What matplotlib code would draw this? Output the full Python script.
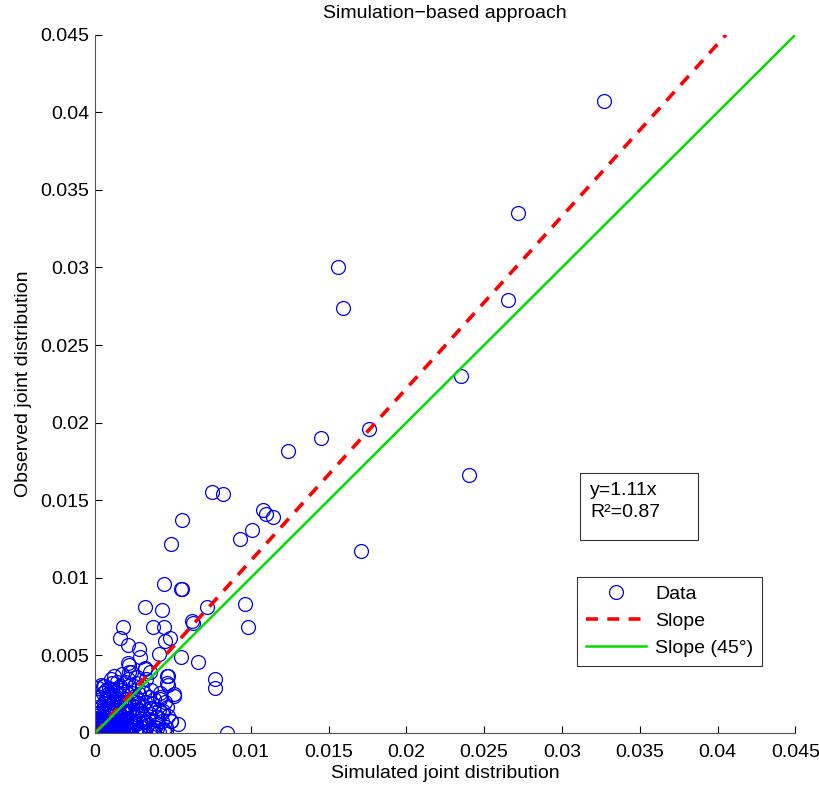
import numpy as np
import matplotlib
matplotlib.use("Agg")
import matplotlib.pyplot as plt
from matplotlib.patches import Rectangle

# simulated vs observed joint distribution (units of 1e-3)
sim_milli = [
    # outliers
    32.7, 27.2, 26.5, 15.6, 15.9, 23.5, 24.0, 17.6, 14.5, 12.4, 17.1,
    7.5, 8.2, 10.8, 11.0, 11.4, 10.1, 9.3, 5.6, 4.9, 4.4, 5.6, 9.6, 9.8,
    7.2, 6.2, 6.3, 7.7, 7.7, 8.5, 6.6, 5.5, 5.5,
    # middle band
    3.2, 4.3, 1.8, 3.7, 4.4, 4.8, 1.6, 2.1, 2.8, 4.5, 4.1, 2.9, 2.1, 2.2,
    3.2, 4.7, 4.7, 4.6, 4.6, 5.1, 4.2, 4.3, 4.9, 4.0, 3.7, 1.2, 0.5,
    # dense cluster near the origin
    0.1, 0.2, 0.3, 0.1, 0.4, 0.5, 0.2, 0.6, 0.7, 0.3, 0.8, 0.9, 0.05, 0.1,
    0.4, 0.0, 0.15, 0.5, 1.0, 1.0, 0.9, 0.6, 0.25, 0.35, 0.45, 0.7, 0.8,
    1.1, 1.2, 1.3, 1.4, 1.5, 1.6, 1.7, 1.8, 1.9, 1.2, 1.5, 1.8, 1.1, 1.4,
    1.0, 0.8, 0.6, 2.0, 1.3, 1.9, 1.15, 1.35, 1.55, 1.75, 1.65, 1.45,
    2.1, 2.2, 2.3, 2.4, 2.5, 2.6, 2.7, 2.8, 2.9, 2.1, 2.3, 2.6, 2.2, 2.0,
    2.15, 2.45, 2.75, 2.35, 2.55, 2.85, 2.05, 2.65,
    3.0, 3.1, 3.2, 3.3, 3.4, 3.5, 3.6, 3.7, 3.8, 3.9, 3.2, 3.5, 3.0, 3.35,
    3.65, 3.15, 3.45, 3.85,
    4.1, 4.3, 4.5, 4.7, 4.9, 4.2, 4.0, 5.1, 4.6, 5.3, 4.4,
    0.3, 0.6, 0.9, 1.2, 1.5, 0.2, 0.7, 1.05, 1.25, 1.6, 0.4, 0.85,
    2.25, 2.5, 1.95, 1.7, 2.9, 3.1, 0.55, 0.95,
    0.2, 0.5, 0.8, 1.1, 1.4, 1.7, 2.0, 2.3, 2.6, 2.9, 3.2, 3.5, 3.8, 4.1, 4.4,
    0.1, 0.2, 0.3, 0.4, 0.5, 0.6, 0.7, 0.8, 0.9, 1.0, 1.1, 1.2, 1.3, 1.4,
    1.5, 1.6, 1.7, 1.8, 1.9, 2.0, 0.15, 0.25, 0.35, 0.45, 0.55, 0.65, 0.75,
    0.85, 0.95, 1.05, 1.15, 1.25, 1.35, 1.45, 1.55, 1.65, 1.75, 1.85, 1.95,
    2.05, 2.15, 2.25, 2.35, 2.45, 2.55, 2.65, 2.75, 2.85, 2.95, 3.05, 3.25,
    3.45, 3.55, 3.75, 3.95, 4.15, 4.35, 4.55, 0.05, 0.1, 0.2, 0.3, 0.5, 0.7,
    0.9, 1.1, 1.3, 1.6, 1.9, 2.2, 0.4, 1.7, 0.2, 2.4, 2.7,
]
obs_milli = [
    40.7, 33.5, 27.9, 30.0, 27.4, 23.0, 16.6, 19.6, 19.0, 18.2, 11.7,
    15.5, 15.4, 14.4, 14.1, 13.9, 13.1, 12.5, 13.7, 12.2, 9.6, 9.3, 8.3, 6.8,
    8.1, 7.2, 7.1, 3.5, 2.9, 0.0, 4.6, 4.9, 9.3,
    8.1, 7.9, 6.8, 6.8, 6.8, 6.1, 6.1, 5.7, 5.4, 5.9, 5.1, 4.9, 4.5, 3.9,
    4.2, 3.7, 3.1, 3.2, 3.7, 2.5, 2.3, 1.3, 0.8, 1.0, 0.2, 3.7, 3.0,
    0.1, 0.3, 0.1, 0.5, 0.2, 0.6, 0.8, 0.1, 0.4, 1.0, 0.8, 0.2, 1.5, 1.2,
    1.4, 0.0, 0.05, 0.0, 0.1, 0.5, 1.1, 1.0, 0.0, 0.6, 0.3, 0.0, 0.2,
    0.3, 0.8, 1.5, 0.2, 0.6, 1.2, 0.0, 0.4, 1.8, 2.0, 2.2, 2.5, 2.8, 3.3,
    3.5, 2.5, 3.0, 0.9, 0.05, 0.1, 1.9, 2.6, 2.9, 1.4, 0.7, 0.1,
    0.2, 1.3, 2.1, 0.5, 3.0, 1.7, 0.1, 2.5, 0.8, 3.5, 3.9, 3.2, 4.4, 2.7,
    0.0, 1.0, 1.9, 0.4, 2.4, 1.4, 1.6, 0.6,
    1.2, 0.3, 2.0, 3.5, 0.9, 1.6, 2.8, 0.0, 2.2, 1.0, 4.1, 3.9, 3.0, 0.5,
    1.9, 2.6, 0.1, 0.4,
    1.5, 0.8, 2.0, 1.1, 0.8, 2.6, 0.3, 2.4, 1.7, 0.6, 0.1,
    0.9, 1.7, 2.3, 0.6, 1.0, 2.1, 2.8, 1.6, 0.0, 0.3, 0.7, 0.0,
    0.0, 1.1, 0.5, 2.8, 0.2, 0.7, 1.9, 2.4,
    0.05, 0.15, 0.0, 0.2, 0.1, 0.3, 0.05, 0.2, 0.1, 0.0, 0.15, 0.25, 0.1, 0.05, 0.2,
    0.2, 0.6, 0.4, 0.9, 0.3, 0.7, 1.2, 0.3, 0.6, 0.9, 1.3, 0.5, 0.9, 1.1,
    0.4, 0.8, 1.5, 1.0, 0.6, 1.4, 0.9, 1.3, 1.7, 0.5, 1.9, 0.2, 1.6,
    2.1, 1.4, 1.8, 0.1, 1.6, 2.3, 1.9, 1.0, 2.0, 0.6, 1.3, 2.2,
    0.3, 1.8, 0.8, 1.5, 2.0, 0.7, 1.2, 2.1, 1.5, 0.4, 1.8, 0.7,
    2.3, 1.2, 1.6, 0.6, 2.2, 1.4, 0.4, 0.7, 2.0, 1.7, 2.3, 2.6, 2.2,
    2.9, 3.2, 2.7, 3.0, 3.3, 3.0, 3.1, 3.8, 2.9, 2.6, 3.6,
]

slope = 1.11
fit_x = [0.0, 0.045 / slope]
diag_x = [0.0, 0.045]

ticks = [0, 0.005, 0.01, 0.015, 0.02, 0.025, 0.03, 0.035, 0.04, 0.045]
tick_labels = ["0", "0.005", "0.01", "0.015", "0.02", "0.025", "0.03", "0.035", "0.04", "0.045"]

plt.rcParams['font.family'] = ['Liberation Sans', 'DejaVu Sans']

sim = np.array(sim_milli) * 1e-3
obs = np.array(obs_milli) * 1e-3

fig = plt.figure(figsize=(8.2, 7.89), dpi=100)
ax = fig.add_axes([0.116, 0.071, 0.854, 0.885])

ax.plot(sim, obs, 'o', mfc='none', mec='#0000ff', ms=10, mew=0.9, label='Data')
ax.plot(fit_x, [slope * v for v in fit_x], '--', color='#ff0000', lw=2.6,
        dashes=(3.3, 2.6), label='Slope')
ax.plot(diag_x, diag_x, '-', color='#00dd00', lw=1.8, label='Slope (45°)')

ax.set_xlim(0, 0.045)
ax.set_ylim(0, 0.045)
ax.set_xticks(ticks)
ax.set_xticklabels(tick_labels)
ax.set_yticks(ticks)
ax.set_yticklabels(tick_labels)
ax.tick_params(direction='in', length=5, labelsize=14, colors='#000000')
ax.tick_params(axis='x', pad=8)
ax.tick_params(axis='y', pad=4)
ax.spines['top'].set_visible(False)
ax.spines['right'].set_visible(False)
for s in ['left', 'bottom']:
    ax.spines[s].set_color('#555555')

fig.text(0.5 * (0.116 + 0.116 + 0.854), 1 - 13 / 789, "Simulation\u2212based approach",
         fontsize=14, ha='center', va='center')
ax.set_xlabel("Simulated joint distribution", fontsize=14, labelpad=3)
ax.set_ylabel("Observed joint distribution", fontsize=14, labelpad=6)

# annotation box with the fit
ax.add_patch(Rectangle((0.693, 0.2765), 0.1686, 0.096, transform=ax.transAxes,
                       fc='white', ec='#333333', lw=0.8, zorder=4))
ax.text(0.707, 0.359, "y=1.11x\nR\u00b2=0.87", fontsize=14, va='top', ha='left',
        linespacing=1.35, transform=ax.transAxes, zorder=5)

leg = ax.legend(loc='upper left', bbox_to_anchor=(0.6886, 0.2235), fontsize=14,
                frameon=True, fancybox=False, edgecolor='#000000',
                handlelength=3.1, borderpad=0.45, labelspacing=0.48,
                handletextpad=0.45, borderaxespad=0.0)
leg.get_frame().set_linewidth(0.8)

fig.savefig("out.png", dpi=100)
